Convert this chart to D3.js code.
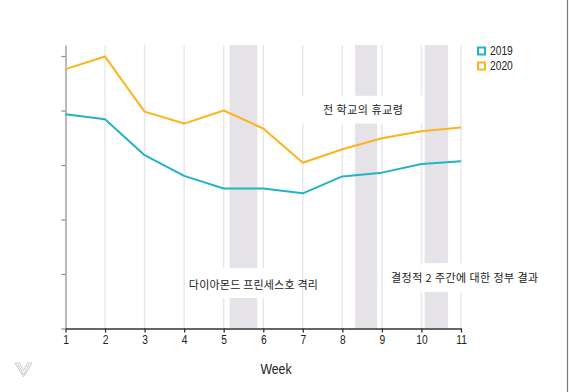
<!DOCTYPE html>
<html>
<head>
<meta charset="utf-8">
<script src="https://cdn.jsdelivr.net/npm/d3@7"></script>
<style>
  html, body { margin: 0; padding: 0; background: #fff; }
  svg { display: block; }
</style>
</head>
<body>
<div id="chart"></div>
<script>
const weeks = [1, 2, 3, 4, 5, 6, 7, 8, 9, 10, 11];
const values2019 = [3.93, 3.84, 3.18, 2.80, 2.57, 2.57, 2.48, 2.79, 2.86, 3.02, 3.07];
const values2020 = [4.76, 4.99, 3.98, 3.76, 4.00, 3.67, 3.04, 3.29, 3.49, 3.62, 3.69];
const seriesNames = ['2019', '2020'];
const yTicks = [0, 1, 2, 3, 4, 5];
const periods = [[5.15, 5.85], [8.32, 8.88], [10.08, 10.67]];
const notes = ['전 학교의 휴교령', '다이아몬드 프린세스호 격리', '결정적 2 주간에 대한 정부 결과'];

const width = 569;
const height = 392;
const colors = { '2019': '#20b4c4', '2020': '#fbb41a' };
const latin = '"Liberation Sans", Arial, sans-serif';
const korean = '"Noto Sans CJK KR", sans-serif';

const svg = d3.select('#chart')
  .append('svg')
  .attr('width', width)
  .attr('height', height);

const x = d3.scaleLinear().domain([1, 11]).range([65.5, 461]);
const y = d3.scaleLinear().domain([0, 5.2]).range([328.5, 45.1]);

// squeeze Liberation Sans to a narrow face
function narrow(sel) {
  sel.each(function () {
    const w = this.getComputedTextLength();
    if (w > 0) {
      d3.select(this)
        .attr('textLength', w * 0.82)
        .attr('lengthAdjust', 'spacingAndGlyphs');
    }
  });
}

// frame line on the right
svg.append('line')
  .attr('x1', 567.5).attr('x2', 567.5)
  .attr('y1', 0).attr('y2', height)
  .attr('stroke', '#7a7a7a')
  .attr('stroke-width', 1.2);

// week grid
svg.append('g')
  .selectAll('line')
  .data(weeks.slice(1))
  .enter()
  .append('line')
  .attr('x1', d => x(d)).attr('x2', d => x(d))
  .attr('y1', y(5.2)).attr('y2', y(0))
  .attr('stroke', '#e9e7ec')
  .attr('stroke-width', 1.5);

// shaded periods
svg.append('g')
  .selectAll('rect')
  .data(periods)
  .enter()
  .append('rect')
  .attr('x', d => x(d[0]))
  .attr('width', d => x(d[1]) - x(d[0]))
  .attr('y', y(5.2))
  .attr('height', y(0) - y(5.2))
  .attr('fill', '#e5e3e7');

// annotation boxes (week / value extents)
const noteLayout = [
  { x0: 6.98, x1: 10.04, y0: 4.27, y1: 3.76, cx: 8.52, base: 114, len: 80 },
  { x0: 4.77, x1: 6.73, y0: 1.11, y1: 0.56, cx: 5.75, base: 288.5, len: 129 },
  { x0: 9.98, x1: 13, y0: 1.2, y1: 0.67, cx: 11.09, base: 281.5, len: 147 }
];

const noteG = svg.append('g')
  .selectAll('g')
  .data(notes)
  .enter()
  .append('g');

noteG.append('rect')
  .attr('x', (d, i) => x(noteLayout[i].x0))
  .attr('width', (d, i) => x(noteLayout[i].x1) - x(noteLayout[i].x0))
  .attr('y', (d, i) => y(noteLayout[i].y0))
  .attr('height', (d, i) => y(noteLayout[i].y1) - y(noteLayout[i].y0))
  .attr('fill', '#fff');

noteG.append('text')
  .attr('x', (d, i) => x(noteLayout[i].cx))
  .attr('y', (d, i) => noteLayout[i].base)
  .attr('text-anchor', 'middle')
  .attr('textLength', (d, i) => noteLayout[i].len)
  .attr('lengthAdjust', 'spacing')
  .style('font-family', korean)
  .style('font-size', '11px')
  .style('fill', '#222')
  .text(d => d);

// axes
const yAxis = svg.append('g')
  .attr('transform', `translate(${x(1)},0)`)
  .call(d3.axisLeft(y).tickValues(yTicks).tickSize(4).tickSizeOuter(0).tickFormat(''));
yAxis.selectAll('path, line').attr('stroke', '#8a8a8a').attr('stroke-width', 1.2);

const xAxis = svg.append('g')
  .attr('transform', `translate(0,${y(0)})`)
  .call(d3.axisBottom(x).tickValues(weeks).tickSize(4).tickSizeOuter(0).tickFormat(d3.format('d')));
xAxis.selectAll('path, line').attr('stroke', '#333').attr('stroke-width', 1.3);
xAxis.selectAll('text')
  .style('font-family', latin)
  .style('font-size', '12.5px')
  .style('fill', '#222')
  .call(narrow);

// lines
const line = d3.line()
  .x((d, i) => x(weeks[i]))
  .y(d => y(d));

const series = [values2019, values2020];
svg.append('g')
  .selectAll('path')
  .data(series)
  .enter()
  .append('path')
  .attr('d', d => line(d))
  .attr('fill', 'none')
  .attr('stroke', (d, i) => colors[seriesNames[i]])
  .attr('stroke-width', 2)
  .attr('stroke-linejoin', 'round');

// legend
const legend = svg.append('g')
  .selectAll('g')
  .data(seriesNames)
  .enter()
  .append('g')
  .attr('transform', (d, i) => `translate(478,${47.5 + i * 15})`);

legend.append('rect')
  .attr('width', 7).attr('height', 7)
  .attr('fill', 'none')
  .attr('stroke', d => colors[d])
  .attr('stroke-width', 2);

legend.append('text')
  .attr('x', 12)
  .attr('y', 7.5)
  .style('font-family', latin)
  .style('font-size', '12.5px')
  .style('fill', '#222')
  .text(d => d)
  .call(narrow);

// axis title
svg.append('text')
  .attr('x', 276)
  .attr('y', 373.5)
  .attr('text-anchor', 'middle')
  .style('font-family', latin)
  .style('font-size', '15px')
  .style('fill', '#222')
  .text('Week')
  .call(narrow);

// logo mark
svg.append('path')
  .attr('d', 'M15,363 L19.5,363 L23.5,370.5 L27.5,363 L32,363 L23.5,377 Z M18,364.5 L23.5,374.5 L29,364.5')
  .attr('fill', 'none')
  .attr('stroke', '#c9c9c9')
  .attr('stroke-width', 1);
</script>
</body>
</html>
